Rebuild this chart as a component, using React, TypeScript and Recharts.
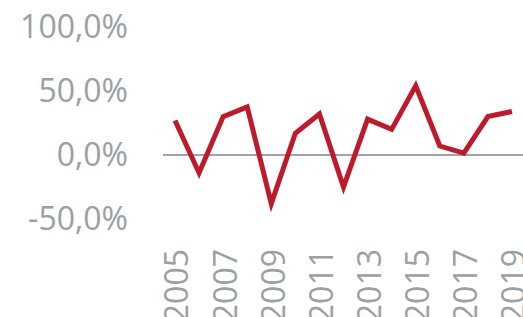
import React from 'react';
import { LineChart, Line, XAxis, YAxis, ReferenceLine } from 'recharts';

const years = ['2005', '2006', '2007', '2008', '2009', '2010', '2011', '2012', '2013', '2014', '2015', '2016', '2017', '2018', '2019'];
const growth = [27, -14, 30, 37.5, -38, 17, 32, -25, 28, 20, 54, 7, 1.5, 30, 34];
const yTicks = [-50, 0, 50, 100];

const data = years.map((year, i) => ({ year, value: growth[i] }));

const FONT = '"Open Sans", sans-serif';
const GRAY = '#9AA0A3';

const fmt = (v: number) => v.toFixed(1).replace('.', ',') + '%';

const XTick = (props: any) => {
  const { x, y, payload } = props;
  return (
    <text
      x={x}
      y={y}
      transform={`rotate(-90, ${x}, ${y})`}
      textAnchor="end"
      dy="0.42em"
      fill={GRAY}
      fontSize={32}
      fontFamily={FONT}
    >
      {payload.value}
    </text>
  );
};

export default function App() {
  return (
    <div style={{ position: 'absolute', left: 0, top: 0, width: 523, height: 317, background: '#fff' }}>
      <LineChart width={523} height={317} data={data} margin={{ top: 27, right: 0, bottom: 0, left: 0 }}>
        <XAxis
          dataKey="year"
          height={98}
          padding={{ left: 12, right: 11 }}
          axisLine={false}
          tickLine={false}
          interval={1}
          tickMargin={24}
          tick={<XTick />}
        />
        <YAxis
          width={163}
          domain={[-50, 100]}
          ticks={yTicks}
          tickFormatter={fmt}
          axisLine={false}
          tickLine={false}
          tickMargin={29}
          tick={{ fill: GRAY, fontSize: 32, fontFamily: FONT }}
        />
        <ReferenceLine y={0} stroke="#858585" strokeWidth={1.5} />
        <Line
          type="linear"
          dataKey="value"
          stroke="#BE1A2B"
          strokeWidth={5}
          dot={false}
          isAnimationActive={false}
        />
      </LineChart>
    </div>
  );
}
